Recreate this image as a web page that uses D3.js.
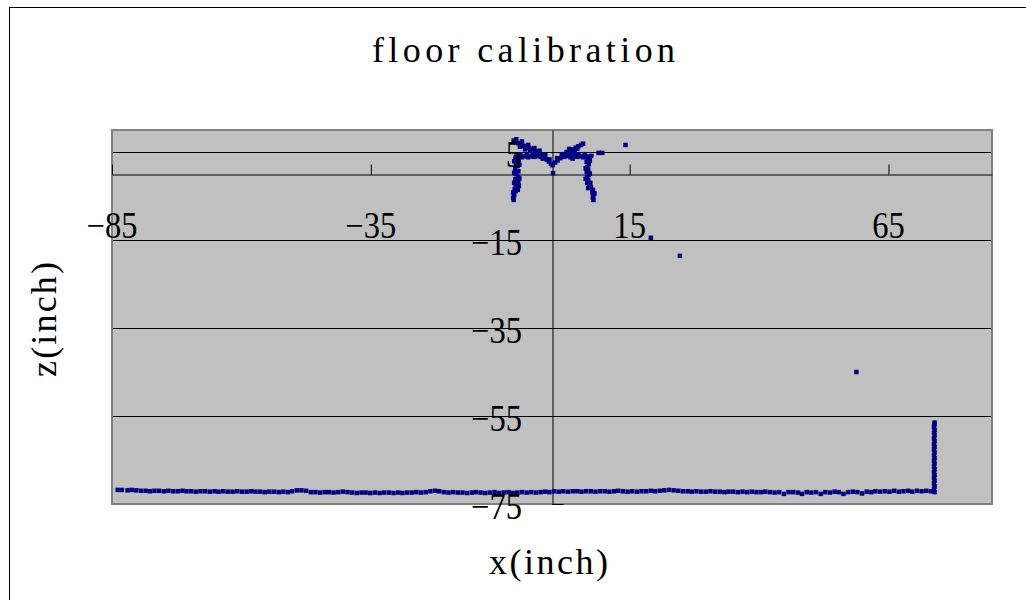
<!DOCTYPE html>
<html>
<head>
<meta charset="utf-8">
<script src="https://cdn.jsdelivr.net/npm/d3@7"></script>
<style>
  body { margin: 0; background: #fff; }
</style>
</head>
<body>
<div id="chart"></div>
<script>
// chart texts
const title = "floor calibration";
const xTitle = "x(inch)";
const zTitle = "z(inch)";

// axis setup
const xDomain = [-85, 85];
const zDomain = [-75, 10];
const xTicks = [-85, -35, 15, 65];
const zTicks = [-75, -55, -35, -15, 5];

// floor scan, [x, z] in inches
const floorPts = [
  [-83.9,-71.8],[-83.1,-71.8],[-82.0,-71.9],[-81.2,-71.8],[-80.3,-71.9],[-79.4,-72.0],[-78.5,-72.0],[-77.7,-72.1],[-76.8,-72.0],[-75.9,-72.0],
  [-75.0,-72.1],[-74.1,-72.0],[-73.2,-72.1],[-72.3,-72.1],[-71.4,-72.0],[-70.6,-72.1],[-69.7,-72.1],[-68.8,-72.2],[-67.9,-72.1],[-67.0,-72.1],
  [-66.1,-72.2],[-65.2,-72.1],[-64.4,-72.2],[-63.5,-72.1],[-62.6,-72.2],[-61.7,-72.2],[-60.8,-72.1],[-59.9,-72.2],[-59.0,-72.2],[-58.1,-72.1],
  [-57.3,-72.2],[-56.4,-72.2],[-55.5,-72.3],[-54.6,-72.2],[-53.7,-72.2],[-52.8,-72.3],[-51.9,-72.2],[-51.0,-72.3],[-50.2,-72.1],[-49.3,-71.9],
  [-48.4,-71.9],[-47.5,-72.0],[-46.6,-72.3],[-45.7,-72.3],[-44.8,-72.4],[-43.9,-72.3],[-43.1,-72.3],[-42.2,-72.4],[-41.3,-72.3],[-40.4,-72.2],
  [-39.5,-72.3],[-38.6,-72.4],[-37.7,-72.5],[-36.8,-72.4],[-36.0,-72.4],[-35.1,-72.5],[-34.2,-72.4],[-33.3,-72.5],[-32.4,-72.4],[-31.5,-72.4],
  [-30.6,-72.5],[-29.7,-72.4],[-28.9,-72.5],[-28.0,-72.4],[-27.1,-72.4],[-26.2,-72.3],[-25.3,-72.4],[-24.4,-72.3],[-23.5,-72.1],[-22.6,-72.0],
  [-21.8,-72.1],[-20.9,-72.3],[-20.0,-72.4],[-19.1,-72.3],[-18.2,-72.4],[-17.3,-72.4],[-16.4,-72.5],[-15.5,-72.4],[-14.7,-72.3],[-13.8,-72.4],
  [-12.9,-72.5],[-12.0,-72.4],[-11.1,-72.3],[-10.2,-72.5],[-9.3,-72.4],[-8.4,-72.3],[-7.6,-72.5],[-6.7,-72.4],[-5.8,-72.3],[-4.9,-72.4],
  [-4.0,-72.3],[-3.1,-72.4],[-2.2,-72.3],[-1.3,-72.2],[-0.5,-72.3],[0.4,-72.1],[1.3,-72.2],[2.2,-72.1],[3.1,-72.2],[4.0,-72.1],
  [4.9,-72.1],[5.7,-72.2],[6.6,-72.1],[7.5,-72.1],[8.4,-72.2],[9.3,-72.1],[10.2,-72.1],[11.1,-72.2],[12.0,-72.1],[12.8,-72.0],
  [13.7,-72.1],[14.6,-72.2],[15.5,-72.1],[16.4,-72.2],[17.3,-72.1],[18.2,-72.1],[19.1,-72.0],[19.9,-72.1],[20.8,-72.0],[21.7,-71.9],
  [22.6,-71.8],[23.5,-71.9],[24.4,-72.0],[25.3,-72.1],[26.2,-72.1],[27.0,-72.2],[27.9,-72.1],[28.8,-72.2],[29.7,-72.2],[30.6,-72.1],
  [31.5,-72.2],[32.4,-72.2],[33.3,-72.3],[34.1,-72.2],[35.0,-72.2],[35.9,-72.3],[36.8,-72.2],[37.7,-72.3],[38.6,-72.2],[39.5,-72.3],
  [40.4,-72.3],[41.2,-72.2],[42.1,-72.3],[43.0,-72.4],[43.9,-72.3],[44.8,-72.7],[45.7,-72.3],[46.6,-72.3],[47.5,-72.4],[48.3,-72.7],
  [49.2,-72.3],[50.1,-72.4],[51.0,-72.3],[51.9,-72.7],[52.8,-72.3],[53.7,-72.4],[54.6,-72.2],[55.4,-72.3],[56.3,-72.7],[57.2,-72.3],
  [58.1,-72.2],[59.0,-72.3],[59.9,-72.6],[60.8,-72.2],[61.7,-72.3],[62.5,-72.1],[63.4,-72.2],[64.3,-72.1],[65.2,-72.2],[66.1,-72.0],
  [67.0,-72.2],[67.9,-72.1],[68.8,-72.0],[69.6,-72.2],[70.5,-72.0],[71.4,-72.1],[72.3,-72.0],[73.2,-72.1]
];

// wall on the right
const wallPts = [
  [73.9,-72.3],[73.8,-71.6],[73.9,-71.0],[73.8,-70.3],[73.9,-69.7],[73.8,-69.0],[73.9,-68.4],[73.8,-67.8],[73.9,-67.1],[73.8,-66.5],
  [73.9,-65.8],[73.8,-65.2],[73.9,-64.6],[73.8,-63.9],[73.9,-63.3],[73.8,-62.6],[73.9,-62.0],[73.8,-61.4],[73.9,-60.7],[73.8,-60.1],
  [73.9,-59.4],[73.8,-58.8],[73.9,-58.2],[73.8,-57.5],[73.9,-56.9],[73.9,-56.5]
];

// object near the sensor (legs, bar, V)
const leftLegPts = [
  [-7.1,3.4],[-6.5,3.0],[-7.0,2.4],[-6.6,1.8],[-7.1,1.2],[-6.5,0.6],[-7.0,0.0],[-6.6,-0.6],[-7.1,-1.2],[-6.5,-1.8],
  [-7.0,-2.4],[-6.6,-3.0],[-7.2,-3.4],[-6.6,-3.6],[-7.5,-4.2],[-7.3,-4.8],[-7.5,-5.4],[-7.4,-5.9],
  [-6.8,3.8],[-7.3,2.9],[-6.3,2.1],[-7.3,0.3],[-6.3,-1.0],[-7.3,-2.0],[-6.4,-2.7],[-7.0,-3.9]
];
const barPts = [
  [-7.0,3.9],[-6.4,4.1],[-5.8,3.8],[-5.2,4.0],[-4.6,3.8],[-4.0,4.0],[-3.4,3.9],[-2.8,4.1],[-2.2,3.9],
  [2.4,3.9],[3.0,4.1],[3.6,3.8],[4.2,4.0],[4.8,3.9],[5.4,4.0],[6.0,3.8],[6.6,4.0],[7.2,3.9],[7.6,4.1],
  [-6.1,4.5],[-4.9,4.4],[-3.7,4.5],[5.1,4.4],[6.3,4.5],[4.0,3.5],[6.9,3.5]
];
const vLeftPts = [
  [-7.4,7.6],[-7.0,7.2],[-6.5,7.0],[-6.0,6.8],[-5.5,6.4],[-5.0,6.2],[-4.4,5.9],[-3.8,5.6],[-3.2,5.2],[-2.6,4.8],
  [-2.0,4.3],[-1.5,3.8],[-1.0,3.3],[-0.6,2.8],[-0.2,2.3],[0.1,2.0],[-6.2,6.2],[-5.2,5.6],[-4.2,5.2],[-5.8,7.4],
  [-4.6,6.6],[-6.9,7.9],[-3.4,5.9],[-2.4,5.3],[-1.3,4.3],[-0.5,3.3],[-2.9,4.5],[-1.8,3.5]
];
const vRightPts = [
  [0.6,2.6],[1.1,3.1],[1.6,3.6],[2.1,4.0],[2.6,4.4],[3.1,4.8],[3.6,5.2],[4.1,5.6],[4.6,6.0],[5.1,6.3],
  [5.6,6.6],[2.8,5.0],[3.8,4.6],[4.4,5.0],[1.0,3.6],[1.9,4.5],[3.3,5.7],[4.9,5.7],[6.0,6.9]
];
const rightLegPts = [
  [7.0,3.4],[6.7,2.8],[7.1,2.2],[6.8,1.6],[7.0,1.0],[6.7,0.4],[7.1,-0.2],[6.8,-0.8],[7.0,-1.4],[6.8,-2.0],
  [7.2,-2.5],[7.5,-3.0],[7.9,-3.6],[7.8,-4.2],[8.0,-4.8],[7.9,-5.4],[8.0,-5.9],
  [7.3,3.0],[6.5,1.3],[7.3,0.1],[6.5,-1.1],[7.4,-2.0],[7.0,-3.2],[8.2,-4.4]
];
// stray returns
const strayPts = [
  [0.2,0.2],[9.0,4.8],[9.7,4.8],[14.2,6.6],[19.1,-14.5],[24.7,-18.6],[58.8,-45.0]
];

const allPts = [].concat(floorPts, wallPts, leftLegPts, barPts, vLeftPts, vRightPts, rightLegPts, strayPts);

const width = 1026, height = 600;
const plot = { left: 112, right: 992, top: 130, bottom: 504 };
const fontFam = "'Liberation Serif', 'DejaVu Serif', serif";
const markSize = 4.5;

const svg = d3.select("#chart")
  .append("svg")
    .attr("width", width)
    .attr("height", height);

// outer chart frame (runs off the page right and bottom)
svg.append("rect")
  .attr("x", 9.5)
  .attr("y", 7.5)
  .attr("width", 1030)
  .attr("height", 620)
  .attr("fill", "#fff")
  .attr("stroke", "#000")
  .attr("stroke-width", 1);

const xScale = d3.scaleLinear().domain(xDomain).range([plot.left, plot.right]);
const yScale = d3.scaleLinear().domain(zDomain).range([plot.bottom, plot.top]);

// plot area
svg.append("rect")
  .attr("x", plot.left)
  .attr("y", plot.top)
  .attr("width", plot.right - plot.left)
  .attr("height", plot.bottom - plot.top)
  .attr("fill", "#c0c0c0");

// horizontal gridlines
svg.selectAll("line.grid")
  .data(zTicks)
  .join("line")
  .attr("class", "grid")
  .attr("x1", plot.left)
  .attr("x2", plot.right)
  .attr("y1", d => Math.round(yScale(d)) + 0.5)
  .attr("y2", d => Math.round(yScale(d)) + 0.5)
  .attr("stroke", "#000")
  .attr("stroke-width", 1);

// plot border on top of the gridlines
svg.append("rect")
  .attr("x", plot.left)
  .attr("y", plot.top)
  .attr("width", plot.right - plot.left)
  .attr("height", plot.bottom - plot.top)
  .attr("fill", "none")
  .attr("stroke", "#808080")
  .attr("stroke-width", 2);

// x axis crossing at z = 0, ticks pointing up
const xAxisY = Math.round(yScale(0)) + 0.5;
const xAxis = svg.append("g")
  .attr("transform", `translate(0, ${xAxisY})`)
  .call(d3.axisTop(xScale).tickValues(xTicks).tickSize(10).tickSizeOuter(0).tickFormat(""));
xAxis.select(".domain").attr("stroke", "#000");
xAxis.selectAll(".tick line").attr("stroke", "#000");

// y axis crossing at x = 0, ticks pointing right
const yAxisX = Math.round(xScale(0)) + 0.5;
const yAxis = svg.append("g")
  .attr("transform", `translate(${yAxisX}, 0)`)
  .call(d3.axisRight(yScale).tickValues(zTicks).tickSize(11).tickSizeOuter(0).tickFormat(""));
yAxis.select(".domain").attr("stroke", "#000");
yAxis.selectAll(".tick line").attr("stroke", "#000");

// points
svg.append("g")
  .selectAll("rect")
  .data(allPts)
  .join("rect")
  .attr("x", d => xScale(d[0]) - markSize / 2)
  .attr("y", d => yScale(d[1]) - markSize / 2)
  .attr("width", markSize)
  .attr("height", markSize)
  .attr("fill", "#000080");

const fmt = d3.format("d");

// x tick labels (sit well below the axis)
svg.selectAll("text.xlab")
  .data(xTicks)
  .join("text")
  .attr("class", "xlab")
  .attr("transform", d => `translate(${xScale(d)}, 238) scale(0.88, 1)`)
  .attr("text-anchor", "middle")
  .style("font-family", fontFam)
  .style("font-size", "37px")
  .attr("fill", "#000")
  .text(d => fmt(d));

// z tick labels
svg.selectAll("text.ylab")
  .data(zTicks)
  .join("text")
  .attr("class", "ylab")
  .attr("transform", d => `translate(522, ${yScale(d) + 15}) scale(0.88, 1)`)
  .attr("text-anchor", "end")
  .style("font-family", fontFam)
  .style("font-size", "37px")
  .attr("fill", "#000")
  .text(d => fmt(d));

// titles
svg.append("text")
  .attr("x", 523.5)
  .attr("y", 62)
  .attr("text-anchor", "middle")
  .attr("textLength", 303)
  .attr("lengthAdjust", "spacing")
  .style("font-family", fontFam)
  .style("font-size", "36px")
  .text(title);

svg.append("text")
  .attr("x", 548.5)
  .attr("y", 574)
  .attr("text-anchor", "middle")
  .attr("textLength", 119)
  .attr("lengthAdjust", "spacing")
  .style("font-family", fontFam)
  .style("font-size", "36px")
  .text(xTitle);

svg.append("text")
  .attr("transform", "translate(56, 319.5) rotate(-90)")
  .attr("text-anchor", "middle")
  .attr("textLength", 115)
  .attr("lengthAdjust", "spacing")
  .style("font-family", fontFam)
  .style("font-size", "36px")
  .text(zTitle);
</script>
</body>
</html>
